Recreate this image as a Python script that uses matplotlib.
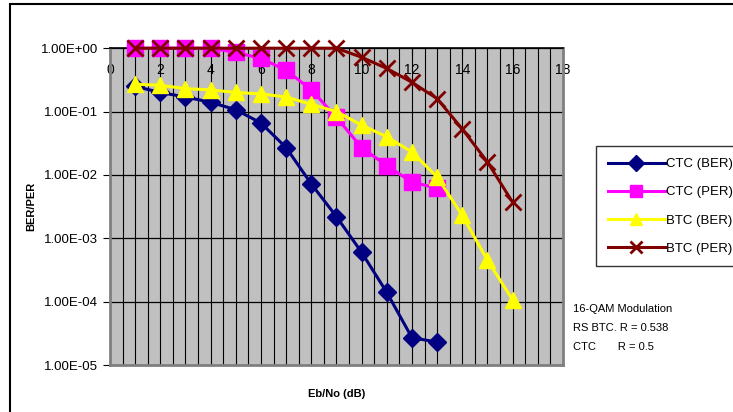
import numpy as np
import matplotlib
matplotlib.use('Agg')
import matplotlib.pyplot as plt
from matplotlib.patches import Rectangle

plt.rcParams['font.family'] = ['Liberation Sans', 'DejaVu Sans']

# Eb/No values (dB) and measured curves
ebno_ctc = [1, 2, 3, 4, 5, 6, 7, 8, 9, 10, 11, 12, 13]
ebno_btc = [1, 2, 3, 4, 5, 6, 7, 8, 9, 10, 11, 12, 13, 14, 15, 16]

ctc_ber = [0.25, 0.2, 0.17, 0.14, 0.107, 0.066, 0.027, 0.0072, 0.0022,
           6.0e-4, 1.4e-4, 2.7e-5, 2.3e-5]
ctc_per = [1.0, 1.0, 1.0, 1.0, 0.86, 0.69, 0.45, 0.22, 0.081,
           0.027, 0.014, 0.0077, 0.0062]
btc_ber = [0.27, 0.26, 0.23, 0.22, 0.2, 0.19, 0.17, 0.13, 0.1,
           0.061, 0.04, 0.023, 0.0093, 0.0023, 4.5e-4, 1.07e-4]
btc_per = [1.0, 1.0, 1.0, 1.0, 1.0, 1.0, 1.0, 1.0, 1.0,
           0.72, 0.48, 0.29, 0.16, 0.053, 0.016, 0.0037]

yticks = [1e0, 1e-1, 1e-2, 1e-3, 1e-4, 1e-5]
ytick_labels = ['1.00E+00', '1.00E-01', '1.00E-02', '1.00E-03', '1.00E-04', '1.00E-05']
xticks = [0, 2, 4, 6, 8, 10, 12, 14, 16, 18]

fig = plt.figure(figsize=(7.33, 4.12), dpi=100)
ax = fig.add_axes([0.150, 0.114, 0.618, 0.769])
ax.set_facecolor('#C0C0C0')

# outer chart frame (only left and top visible in the reference)
fig.patches.append(Rectangle((10 / 733, -0.2), 2.0, 0.99 + 0.2, transform=fig.transFigure,
                             fill=False, edgecolor='black', lw=1.5))

ax.plot(ebno_ctc, ctc_ber, color='#000080', marker='D', ms=9, lw=2.2, label='CTC (BER)',
        clip_on=False, zorder=3)
ax.plot(ebno_ctc, ctc_per, color='#FF00FF', marker='s', ms=11, lw=2.2, label='CTC (PER)',
        clip_on=False, zorder=4)
ax.plot(ebno_btc, btc_ber, color='#FFFF00', marker='^', ms=12, lw=2.2, label='BTC (BER)',
        clip_on=False, zorder=5)
ax.plot(ebno_btc, btc_per, color='#800000', marker='x', ms=11, mew=2, lw=2.2, label='BTC (PER)',
        clip_on=False, zorder=6)

ax.set_yscale('log')
ax.set_ylim(1e-5, 1)
ax.set_xlim(0, 18)
ax.set_yticks(yticks)
ax.set_yticklabels(ytick_labels)
ax.minorticks_off()
ax.set_xticks(xticks)
ax.set_xticks(np.arange(0, 18.01, 0.5), minor=True)

ax.grid(True, which='major', axis='y', color='black', lw=0.9)
ax.grid(True, which='both', axis='x', color='black', lw=0.8)
ax.set_axisbelow(True)

ax.tick_params(axis='x', which='both', top=True, bottom=False, labeltop=True, labelbottom=False,
               direction='in', pad=-21, labelsize=10, length=0)
ax.tick_params(axis='x', which='major', top=True, length=5, direction='in')
ax.tick_params(axis='y', which='major', labelsize=9.5, length=5, direction='out', color='black')

for s in ax.spines.values():
    s.set_color('#808080')
    s.set_linewidth(2)
ax.spines['top'].set_color('black')
ax.spines['top'].set_linewidth(1.2)

ax.set_ylabel('BER/PER', fontsize=8, fontweight='bold', labelpad=3)
ax.set_xlabel('Eb/No (dB)', fontsize=8, fontweight='bold', labelpad=17)

leg = fig.legend(loc='upper left', bbox_to_anchor=(0.813, 0.645), fontsize=9.5,
                 frameon=True, fancybox=False, edgecolor='black', handlelength=4.3,
                 labelspacing=1.2, borderpad=0.9, handletextpad=0.1, borderaxespad=0)
leg.get_frame().set_linewidth(1.0)
for h in leg.legend_handles:
    h.set_markersize(8)

fig.text(573 / 733, 1 - 309 / 412, '16-QAM Modulation', fontsize=8, va='center')
fig.text(573 / 733, 1 - 328 / 412, 'RS BTC. R = 0.538', fontsize=8, va='center')
fig.text(573 / 733, 1 - 347 / 412, 'CTC       R = 0.5', fontsize=8, va='center')

fig.savefig('out.png', dpi=100)
